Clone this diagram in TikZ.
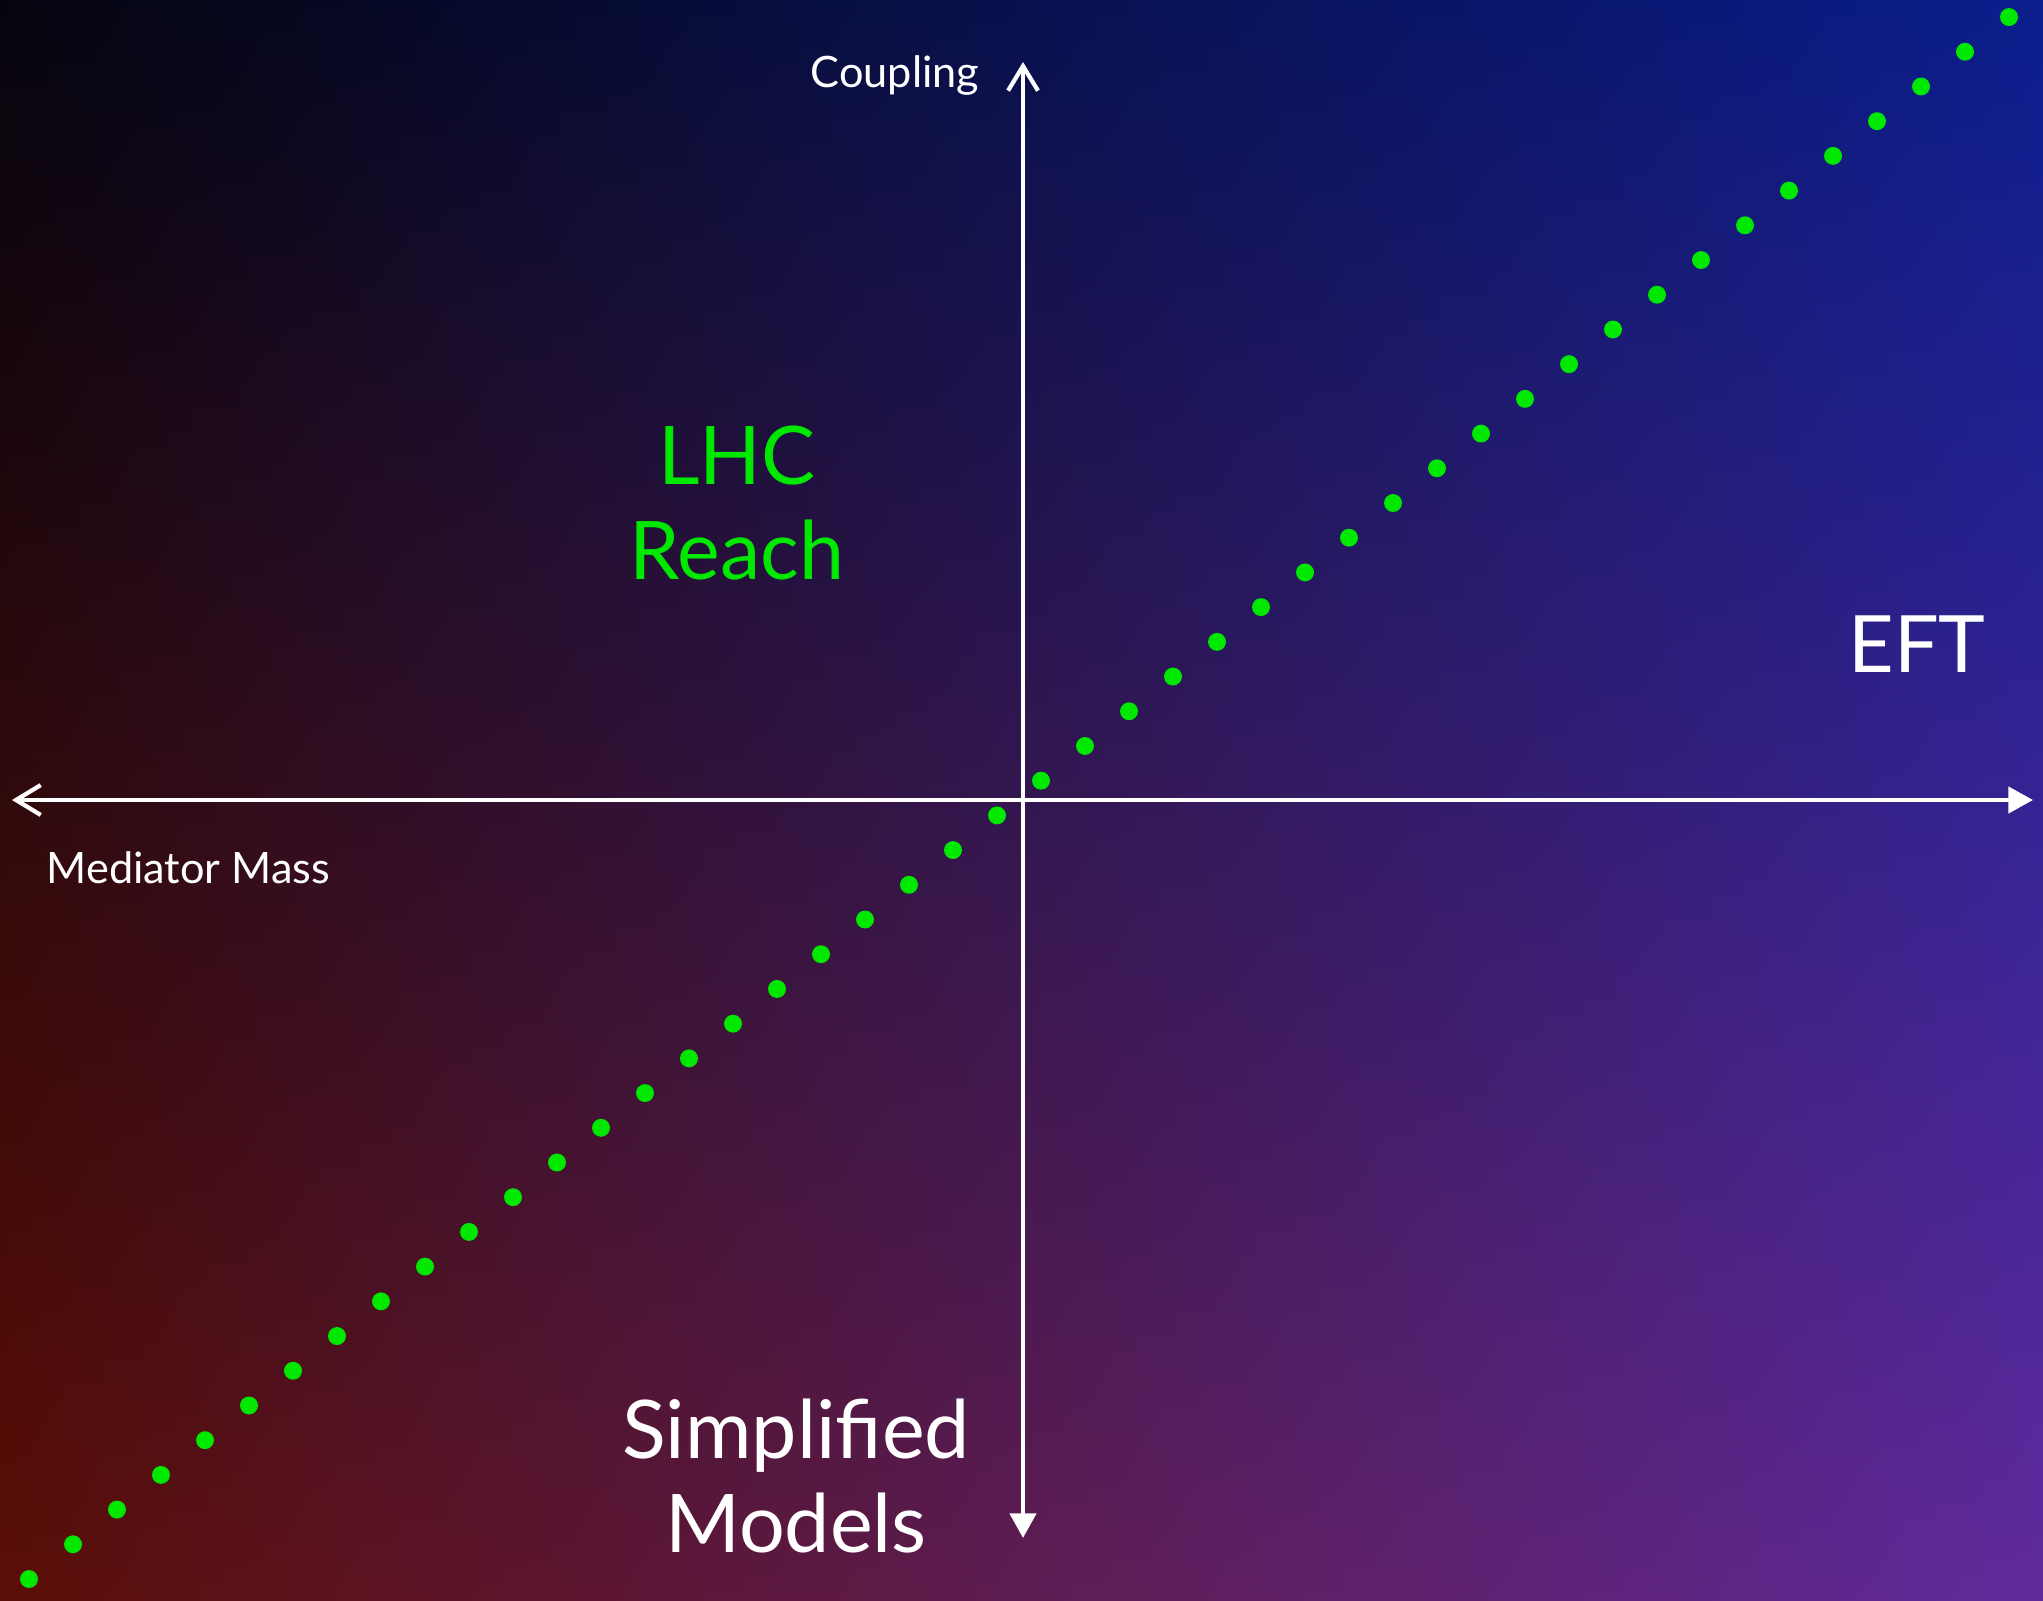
\documentclass[tikz,border=0pt]{standalone}
\usepackage{fontspec}
\setmainfont{Lato}
\usepackage{xcolor}
\usepackage{tikz}
\usetikzlibrary{positioning,arrows.meta,shadings}
\definecolor{bgtl}{HTML}{05040E}
\definecolor{bgtr}{HTML}{0A1D8C}
\definecolor{bgbl}{HTML}{5B0E06}
\definecolor{bgbr}{HTML}{602A9C}
\definecolor{lhcgreen}{HTML}{00E800}

\begin{document}
\begin{tikzpicture}[
    x=0.01cm, y=-0.01cm,
    axis/.style={draw=white, line width=1.2pt},
    openarr/.style={axis, -{Straight Barb[length=7pt, width=8.5pt, line width=1.2pt]}},
    fillarr/.style={axis, -{Triangle[length=7pt, width=7.4pt]}},
    dot/.style={circle, fill=lhcgreen, inner sep=0pt, minimum size=5.1pt},
    axislabel/.style={inner sep=0pt, text=white, font=\fontsize{12.3}{15}\selectfont},
    bigtext/.style={inner sep=0pt, align=center, font=\fontsize{23}{27}\selectfont}
]
    % background
    \shade[upper left=bgtl, upper right=bgtr, lower left=bgbl, lower right=bgbr]
        (0,0) rectangle (2043,1600);

    % axes
    \coordinate (orig) at (1023,800);
    \coordinate (west) at (12,800);
    \coordinate (east) at (2033,800);
    \coordinate (north) at (1023,62);
    \coordinate (south) at (1023,1538);
    \draw[openarr] (orig) -- (west);
    \draw[fillarr] (orig) -- (east);
    \draw[openarr] (orig) -- (north);
    \draw[fillarr] (orig) -- (south);

    \node[axislabel, anchor=east] (coupling) at (980,76) {Coupling};
    \node[axislabel, anchor=west] (mass) at (46,868) {Mediator Mass};

    % dotted boundary
    \foreach \i in {0,...,45}
        \node[dot] (d\i) at ({29+44*\i},{1579-34.71*\i}) {};

    \node[bigtext, text=lhcgreen] (lhc) at (737,503) {LHC\\Reach};
    \node[bigtext, text=white, font=\fontsize{22.5}{27}\selectfont] (eft) at (1917,644) {EFT};
    \node[bigtext, text=white] (simp) at (796,1476) {Simplified\\Models};
\end{tikzpicture}
\end{document}
